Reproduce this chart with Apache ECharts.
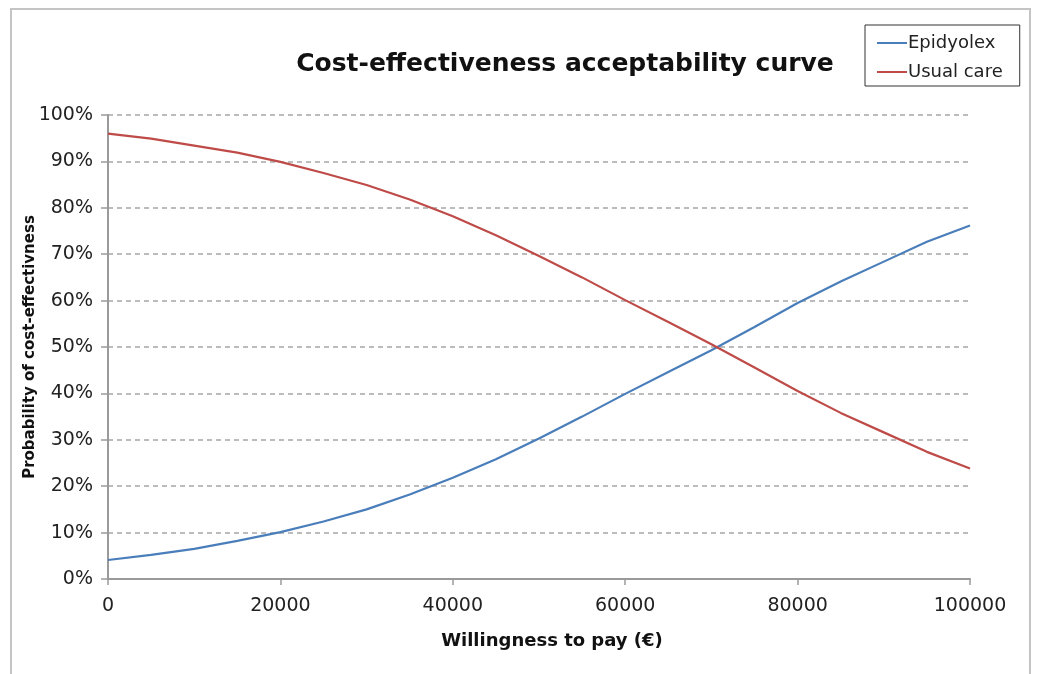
<!DOCTYPE html>
<html>
<head>
<meta charset="utf-8">
<script src="https://cdn.jsdelivr.net/npm/echarts@6/dist/echarts.min.js"></script>
<style>
  html, body { margin: 0; padding: 0; background: #fff; }
  #chart { width: 1040px; height: 674px; }
</style>
</head>
<body>
<div id="chart"></div>
<script>
// willingness to pay (€)
const wtp = [0, 5000, 10000, 15000, 20000, 25000, 30000, 35000, 40000, 45000, 50000,
  55000, 60000, 65000, 70000, 75000, 80000, 85000, 90000, 95000, 100000];
// probability of cost-effectiveness (%)
const epidyolex = [4.1, 5.2, 6.5, 8.2, 10.1, 12.4, 15.0, 18.2, 21.8, 25.8, 30.3,
  35.0, 39.9, 44.6, 49.3, 54.3, 59.5, 64.1, 68.4, 72.7, 76.2];
const usualCare = [96.0, 94.9, 93.4, 91.9, 89.9, 87.5, 84.9, 81.8, 78.2, 74.1, 69.6,
  65.0, 60.1, 55.4, 50.6, 45.6, 40.5, 35.8, 31.6, 27.4, 23.8];
const seriesNames = ['Epidyolex', 'Usual care'];

const pairs = (ys) => wtp.map((x, i) => [x, ys[i]]);
const font = 'DejaVu Sans, Verdana, sans-serif';

const chart = echarts.init(document.getElementById('chart'));
const option = {
  backgroundColor: '#fff',
  animation: false,
  graphic: [
    {
      type: 'rect',
      shape: { x: 11, y: 9, width: 1019, height: 720 },
      style: { fill: 'none', stroke: '#c4c4c4', lineWidth: 2 },
      silent: true,
    },
  ],
  title: {
    text: 'Cost-effectiveness acceptability curve',
    left: 560,
    top: 47,
    textAlign: 'center',
    textStyle: {
      fontFamily: font,
      fontSize: 25,
      fontWeight: 'bold',
      color: '#111',
    },
  },
  legend: {
    data: seriesNames,
    orient: 'vertical',
    left: 865,
    top: 25,
    padding: [9, 17, 5, 12],
    itemGap: 11,
    itemWidth: 30,
    itemHeight: 2,
    icon: 'rect',
    borderColor: '#333',
    borderWidth: 1,
    textStyle: { fontFamily: font, fontSize: 18, color: '#222', padding: [0, 0, 0, -4] },
  },
  grid: { left: 108, right: 70, top: 115, bottom: 95 },
  xAxis: {
    type: 'value',
    min: 0,
    max: 100000,
    interval: 20000,
    name: 'Willingness to pay (€)',
    nameLocation: 'middle',
    nameGap: 53,
    nameTextStyle: {
      fontFamily: font, fontSize: 18, fontWeight: 'bold', color: '#111', padding: [0, 0, 0, 26],
    },
    axisLine: { lineStyle: { color: '#9a9a9a', width: 2 } },
    axisTick: { show: true, length: 6, lineStyle: { color: '#9a9a9a', width: 1.5 } },
    axisLabel: {
      fontFamily: font, fontSize: 19, color: '#222', margin: 18,
      formatter: (v) => String(v),
    },
    splitLine: { show: false },
  },
  yAxis: {
    type: 'value',
    min: 0,
    max: 100,
    interval: 10,
    name: 'Probability of cost-effectivness',
    nameLocation: 'middle',
    nameGap: 70,
    nameMoveOverlap: false,
    nameTextStyle: { fontFamily: font, fontSize: 15, fontWeight: 'bold', color: '#111' },
    axisLine: { show: true, lineStyle: { color: '#9a9a9a', width: 2 } },
    axisTick: { show: true, length: 7, lineStyle: { color: '#9a9a9a', width: 1.5 } },
    axisLabel: { fontFamily: font, fontSize: 19, color: '#222', margin: 15, formatter: '{value}%' },
    splitLine: { show: true, lineStyle: { color: '#a6a6a6', width: 1.5, type: [5, 4] } },
  },
  series: [
    {
      name: seriesNames[0],
      type: 'line',
      data: pairs(epidyolex),
      symbol: 'none',
      color: '#4a7ebb',
      lineStyle: { width: 2.2 },
    },
    {
      name: seriesNames[1],
      type: 'line',
      data: pairs(usualCare),
      symbol: 'none',
      color: '#be4b48',
      lineStyle: { width: 2.2 },
    },
  ],
};
chart.setOption(option);
</script>
</body>
</html>
